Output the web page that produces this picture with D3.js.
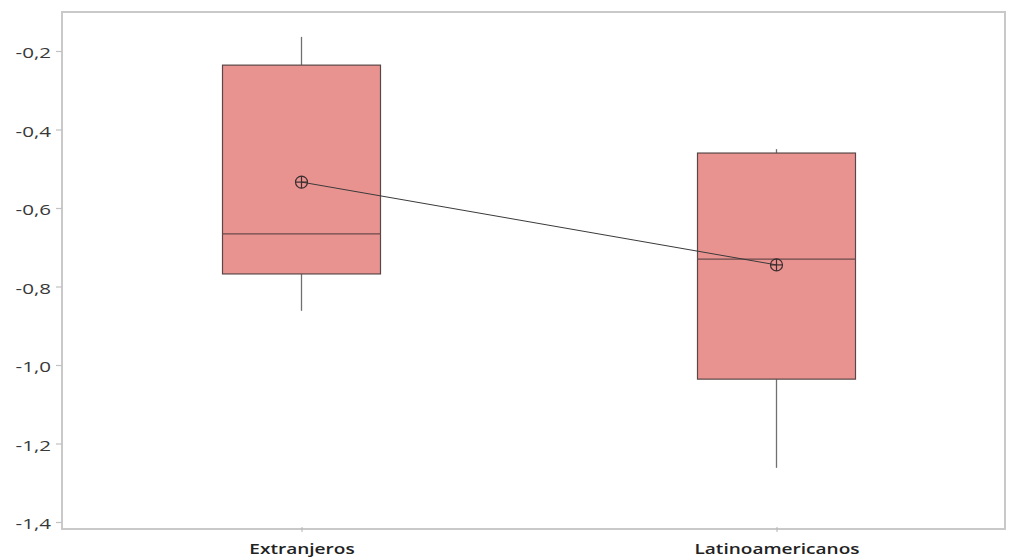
<!DOCTYPE html>
<html>
<head>
<meta charset="utf-8">
<script src="https://cdn.jsdelivr.net/npm/d3@7"></script>
<style>
  html, body { margin: 0; padding: 0; background: #fff; }
  svg { display: block; }
</style>
</head>
<body>
<div id="chart"></div>
<script>
// Box plot data per group
const categories = ["Extranjeros", "Latinoamericanos"];
const whiskerHigh = [-0.164, -0.450];
const q3 = [-0.236, -0.460];
const medians = [-0.666, -0.730];
const q1 = [-0.768, -1.036];
const whiskerLow = [-0.862, -1.262];
const means = [-0.534, -0.745];
const yTicks = [-0.2, -0.4, -0.6, -0.8, -1.0, -1.2, -1.4];

const W = 1010, H = 558;
const frame = { left: 62, right: 1005, top: 12, bottom: 529 };

const svg = d3.select("#chart").append("svg")
  .attr("width", W).attr("height", H);

const y = d3.scaleLinear()
  .domain([-1.4, -0.2])
  .range([522, 51]);

const x = d3.scalePoint()
  .domain(categories)
  .range([64, 1014])
  .padding(0.5);

const boxW = 158;
const fmt = v => d3.format(".1f")(v).replace(".", ",").replace("−", "-");

// Wide, condensed-height label style
const yStretch = 1.42, xStretch = 1.36;

// Frame
svg.append("rect")
  .attr("x", frame.left).attr("y", frame.top)
  .attr("width", frame.right - frame.left)
  .attr("height", frame.bottom - frame.top)
  .attr("fill", "none")
  .attr("stroke", "#c9c9c9")
  .attr("stroke-width", 2);

// Y axis ticks and labels
const yAxis = d3.axisLeft(y).tickValues(yTicks).tickSize(6).tickPadding(5).tickFormat(fmt);
const gy = svg.append("g").attr("transform", `translate(${frame.left},0)`).call(yAxis);
gy.select(".domain").remove();
gy.selectAll(".tick line").attr("stroke", "#c2c2c2").attr("stroke-width", 1.2);
gy.selectAll(".tick text")
  .attr("x", -11 / yStretch)
  .attr("dy", "0.45em")
  .attr("transform", `scale(${yStretch},1)`)
  .attr("fill", "#383838")
  .style("font-family", "'Open Sans', sans-serif")
  .style("font-size", "14.5px");

// X axis ticks and labels
const xAxis = d3.axisBottom(x).tickSize(5).tickPadding(12);
const gx = svg.append("g").attr("transform", `translate(0,${frame.bottom - 2})`).call(xAxis);
gx.select(".domain").remove();
gx.selectAll(".tick line").attr("stroke", "#b5b5b5").attr("stroke-width", 1);
gx.selectAll(".tick text")
  .attr("transform", `scale(${xStretch},1)`)
  .attr("fill", "#222")
  .style("font-family", "'Open Sans', sans-serif")
  .style("font-weight", "600")
  .style("font-size", "14px");

const g = svg.append("g");

categories.forEach((c, i) => {
  const cx = x(c);
  // whiskers
  g.append("line")
    .attr("x1", cx).attr("x2", cx)
    .attr("y1", y(whiskerHigh[i])).attr("y2", y(q3[i]))
    .attr("stroke", "#707070").attr("stroke-width", 1.3);
  g.append("line")
    .attr("x1", cx).attr("x2", cx)
    .attr("y1", y(q1[i])).attr("y2", y(whiskerLow[i]))
    .attr("stroke", "#707070").attr("stroke-width", 1.3);
  // box
  g.append("rect")
    .attr("x", cx - boxW / 2)
    .attr("y", y(q3[i]))
    .attr("width", boxW)
    .attr("height", y(q1[i]) - y(q3[i]))
    .attr("fill", "#e99391")
    .attr("stroke", "#5a4646")
    .attr("stroke-width", 1.2);
  // median
  g.append("line")
    .attr("x1", cx - boxW / 2).attr("x2", cx + boxW / 2)
    .attr("y1", y(medians[i])).attr("y2", y(medians[i]))
    .attr("stroke", "#6a4a4a").attr("stroke-width", 1.3);
});

// Line connecting means
g.append("path")
  .datum(categories.map((c, i) => [x(c), y(means[i])]))
  .attr("d", d3.line())
  .attr("fill", "none")
  .attr("stroke", "#3a3a3a")
  .attr("stroke-width", 1);

// Mean symbols (circle with cross)
const r = 6;
categories.forEach((c, i) => {
  const cx = x(c), cy = y(means[i]);
  const m = g.append("g").attr("transform", `translate(${cx},${cy})`);
  m.append("circle").attr("r", r).attr("fill", "none")
    .attr("stroke", "#3a2e2e").attr("stroke-width", 1.2);
  m.append("line").attr("x1", -r).attr("x2", r).attr("y1", 0).attr("y2", 0)
    .attr("stroke", "#3a2e2e").attr("stroke-width", 1.2);
  m.append("line").attr("x1", 0).attr("x2", 0).attr("y1", -r).attr("y2", r)
    .attr("stroke", "#3a2e2e").attr("stroke-width", 1.2);
});
</script>
</body>
</html>
